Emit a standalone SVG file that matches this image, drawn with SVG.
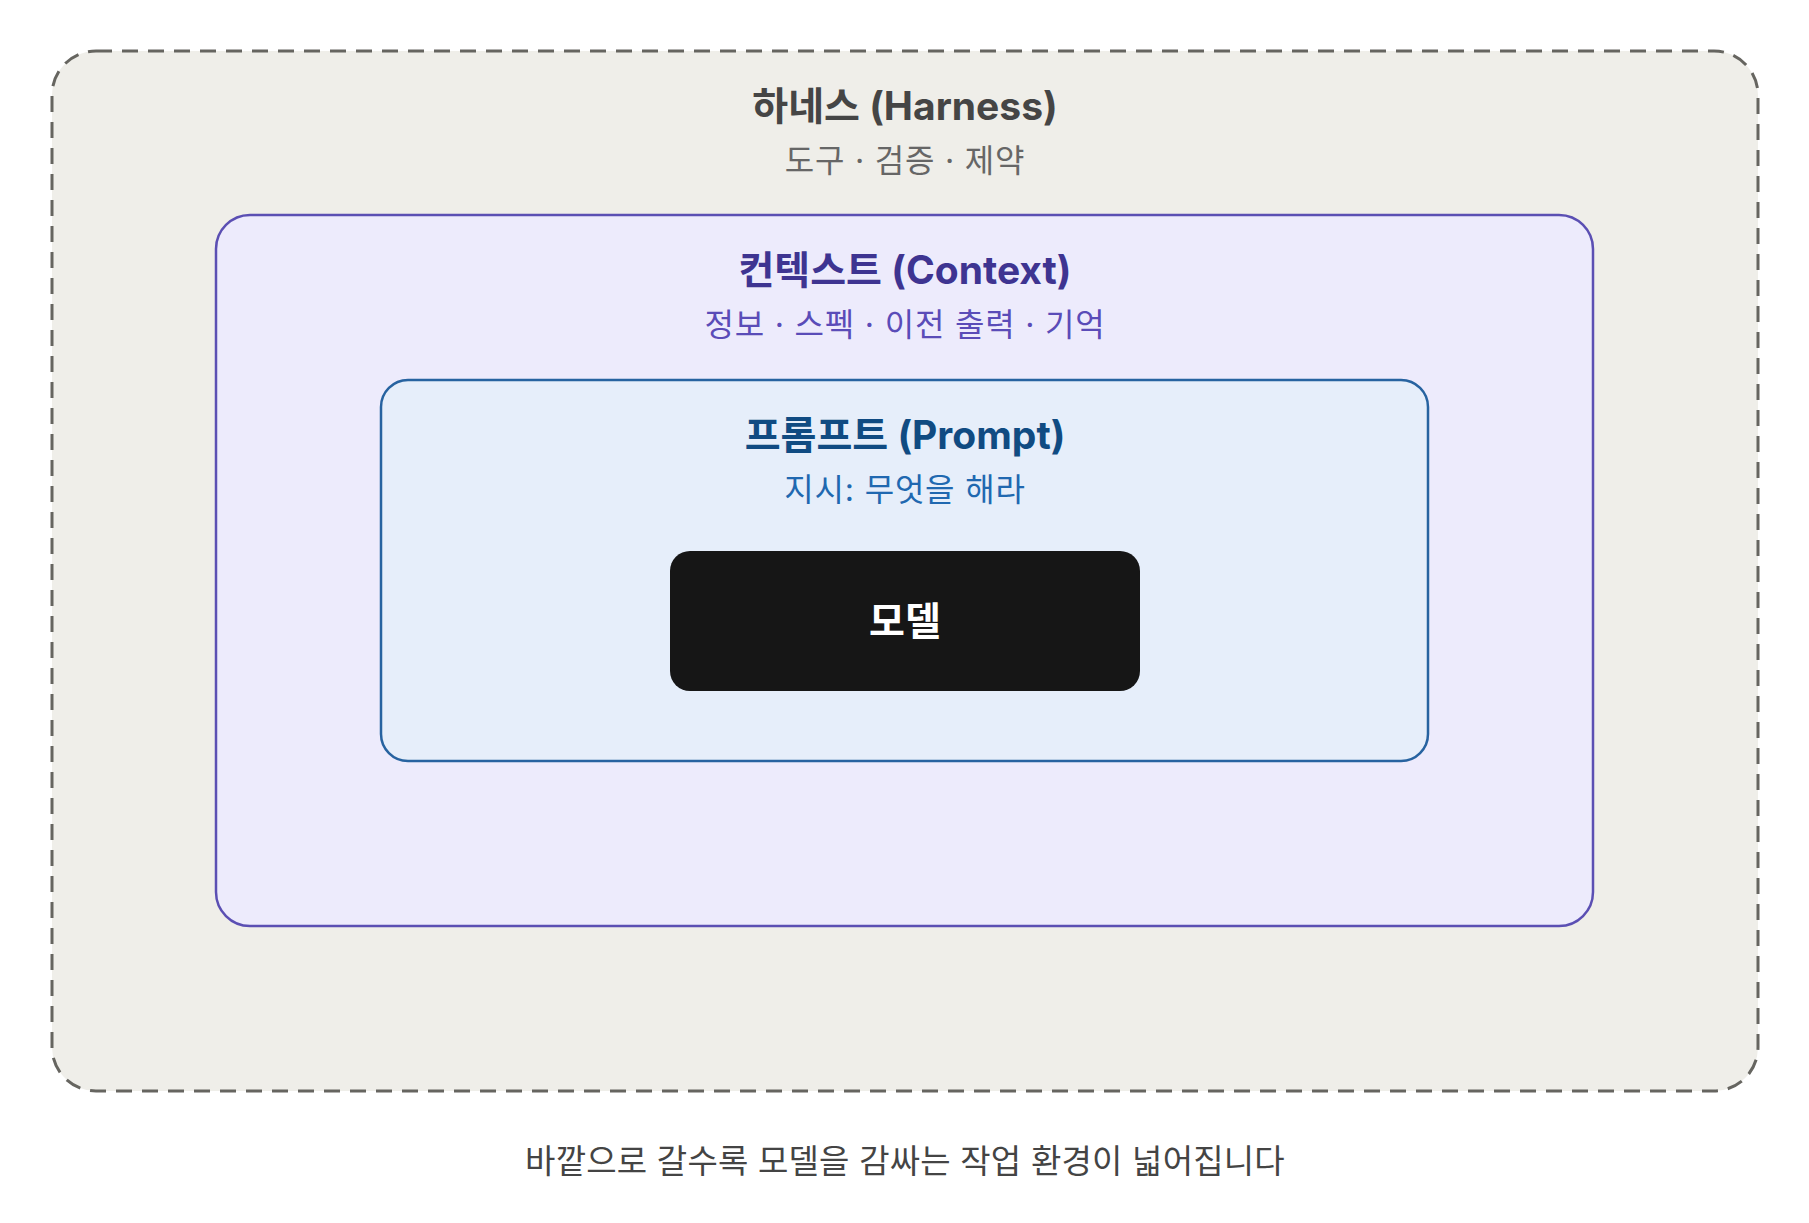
<svg xmlns="http://www.w3.org/2000/svg" width="1809" height="1223" viewBox="0 0 1809 1223">
<style>
text{font-family:"Inter","Noto Sans CJK KR","Noto Sans",sans-serif;text-anchor:middle}
.t{font-weight:700;font-size:39px}
.s{font-weight:400;font-size:32px;letter-spacing:0.8px}
</style>
<rect x="0" y="0" width="1809" height="1223" fill="#ffffff"/>
<g id="harness">
<rect x="52" y="51" width="1706" height="1040" rx="44" fill="#efeee9" stroke="#666560" stroke-width="3" stroke-dasharray="16 10"/>
<text class="t" x="905" y="120" fill="#454545">하네스 (Harness)</text>
<text class="s" x="905" y="172" fill="#666666">도구 · 검증 · 제약</text>
</g>
<g id="context">
<rect x="216" y="215" width="1377" height="711" rx="34" fill="#edebfc" stroke="#5b4fb3" stroke-width="2.5"/>
<text class="t" x="905" y="284" fill="#3e3491">컨텍스트 (Context)</text>
<text class="s" x="905" y="336" fill="#5a4cb8">정보 · 스펙 · 이전 출력 · 기억</text>
</g>
<g id="prompt">
<rect x="381" y="380" width="1047" height="381" rx="27" fill="#e6eefa" stroke="#2763a0" stroke-width="2.5"/>
<text class="t" x="905" y="449" fill="#104b82">프롬프트 (Prompt)</text>
<text class="s" x="905" y="501" fill="#2068b0">지시: 무엇을 해라</text>
</g>
<g id="model">
<rect x="670" y="551" width="470" height="140" rx="20" fill="#161616"/>
<text class="t" x="905" y="635" font-size="40" fill="#ffffff">모델</text>
</g>
<g id="connectors"></g>
<text x="905" y="1173" font-size="33" fill="#444444" letter-spacing="0.2px">바깥으로 갈수록 모델을 감싸는 작업 환경이 넓어집니다</text>
</svg>
